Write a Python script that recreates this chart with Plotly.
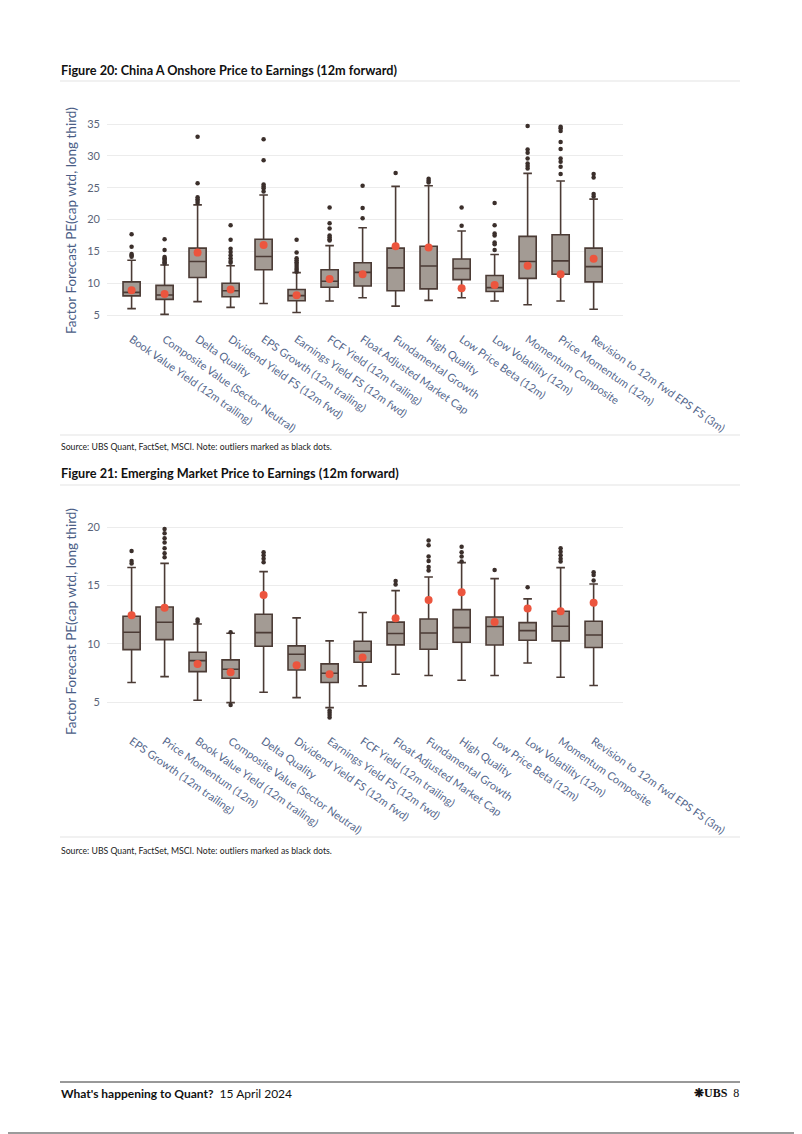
import plotly.graph_objects as go

# page is 802x1134; the html body adds an 8px margin, so the figure covers the rest
PAGE_OFF = 8
W, H = 802 - PAGE_OFF, 1134 - PAGE_OFF

# ---------------- Figure 20: China A Onshore ----------------
cats1 = ["Book Value Yield (12m trailing)", "Composite Value (Sector Neutral)", "Delta Quality",
         "Dividend Yield FS (12m fwd)", "EPS Growth (12m trailing)", "Earnings Yield FS (12m fwd)",
         "FCF Yield (12m trailing)", "Float Adjusted Market Cap", "Fundamental Growth", "High Quality",
         "Low Price Beta (12m)", "Low Volatility (12m)", "Momentum Composite", "Price Momentum (12m)",
         "Revision to 12m fwd EPS FS (3m)"]
low1 = [6.0, 5.1, 7.1, 6.2, 6.8, 5.4, 7.2, 7.7, 6.4, 7.3, 7.7, 7.2, 6.6, 7.2, 5.9]
q1_1 = [8.0, 7.46, 10.9, 7.87, 12.1, 7.25, 9.35, 9.55, 8.8, 9.1, 10.55, 8.7, 10.75, 11.4, 10.2]
med1 = [8.55, 8.14, 13.4, 8.81, 14.2, 8.04, 10.3, 11.7, 12.4, 12.7, 12.3, 9.3, 13.4, 13.5, 12.6]
q3_1 = [10.2, 9.66, 15.5, 9.98, 16.9, 9.0, 12.1, 13.2, 15.5, 15.8, 13.8, 11.2, 17.35, 17.6, 15.5]
high1 = [13.6, 12.85, 22.3, 12.74, 23.85, 11.65, 15.9, 18.7, 25.2, 25.3, 18.2, 14.5, 27.25, 26.05, 23.2]
mean1 = [8.9, 8.3, 14.8, 9.0, 16.0, 8.1, 10.65, 11.4, 15.8, 15.6, 9.2, 9.7, 12.75, 11.4, 13.85]
out1 = [
    [17.67, 15.73, 14.58, 14.37, 14.16],
    [16.9, 15.2, 14.1, 13.9, 13.7, 13.5, 13.3, 13.1],
    [33.0, 25.7, 23.5, 23.2, 22.9, 22.6],
    [19.1, 16.8, 15.4, 14.9, 14.4, 13.9, 13.5, 13.2],
    [32.6, 29.3, 25.5, 25.2, 24.9, 24.4],
    [16.8, 14.8, 13.9, 13.6, 13.3, 13.0, 12.7, 12.4, 12.1, 11.8],
    [21.9, 19.4, 18.6, 17.5, 17.2, 16.9, 16.7],
    [25.3, 21.8, 20.2],
    [27.3],
    [26.4, 26.1, 25.8],
    [21.9, 19.0],
    [22.6, 19.1, 17.8, 17.5, 16.4, 16.1, 15.2],
    [34.69, 31.0, 30.5, 29.6, 28.8, 28.4, 28.0],
    [34.58, 34.32, 33.9, 32.17, 31.07, 29.6, 29.08, 28.3, 27.15],
    [27.15, 26.6, 24.0, 23.6],
]
yticks1 = [5, 10, 15, 20, 25, 30, 35]

# ---------------- Figure 21: Emerging Market ----------------
cats2 = ["EPS Growth (12m trailing)", "Price Momentum (12m)", "Book Value Yield (12m trailing)",
         "Composite Value (Sector Neutral)", "Delta Quality", "Dividend Yield FS (12m fwd)",
         "Earnings Yield FS (12m fwd)", "FCF Yield (12m trailing)", "Float Adjusted Market Cap",
         "Fundamental Growth", "High Quality", "Low Price Beta (12m)", "Low Volatility (12m)",
         "Momentum Composite", "Revision to 12m fwd EPS FS (3m)"]
low2 = [6.69, 7.2, 5.17, 4.97, 5.86, 5.4, 4.54, 6.4, 7.4, 7.29, 6.89, 7.29, 8.37, 7.14, 6.43]
q1_2 = [9.51, 10.37, 7.63, 7.06, 9.8, 7.77, 6.69, 8.43, 9.92, 9.54, 10.14, 9.91, 10.31, 10.26, 9.69]
med2 = [11.0, 11.86, 8.57, 7.83, 10.97, 9.11, 7.49, 9.37, 10.89, 10.94, 11.4, 11.49, 11.14, 11.51, 10.77]
q3_2 = [12.37, 13.17, 9.29, 8.63, 12.54, 9.83, 8.29, 10.23, 11.87, 12.14, 12.94, 12.31, 11.83, 12.8, 11.94]
high2 = [16.55, 16.91, 11.71, 10.91, 16.2, 12.23, 10.26, 12.69, 14.57, 15.74, 16.97, 15.6, 13.86, 16.54, 15.14]
mean2 = [12.46, 13.1, 8.29, 7.57, 14.2, 8.17, 7.4, 8.83, 12.2, 13.77, 14.43, 11.89, 13.03, 12.8, 13.54]
out2 = [
    [17.97, 17.1, 16.9],
    [19.86, 19.49, 19.06, 18.69, 18.2, 17.77, 17.43],
    [12.1, 11.9],
    [11.0, 4.77],
    [17.86, 17.6, 17.3, 17.0],
    [],
    [4.29, 4.1, 3.9, 3.7],
    [],
    [15.4, 15.1],
    [18.86, 18.46, 17.49, 17.1, 16.6, 16.3],
    [18.34, 17.86, 17.5, 17.06],
    [16.34],
    [14.86],
    [18.2, 17.9, 17.6, 17.3, 17.06],
    [16.14, 15.9, 15.43],
]
yticks2 = [5, 10, 15, 20]

title1 = "Figure 20: China A Onshore Price to Earnings (12m forward)"
title2 = "Figure 21: Emerging Market Price to Earnings (12m forward)"
source_txt = "Source: UBS Quant, FactSet, MSCI. Note: outliers marked as black dots."
ytitle = "Factor Forecast PE(cap wtd, long third)"

# ---------------- styling ----------------
BOX_FILL = "#a39b94"
BOX_LINE = "#4b3b35"
OUT_COL = "#3b2f2b"
MEAN_COL = "#ec553e"
TICK_COL = "#55678c"
FONT = "Lato, 'Open Sans', sans-serif"


def px(x):
    return (x - PAGE_OFF) / W


def py(y):
    return 1 - (y - PAGE_OFF) / H


fig = go.Figure()


def add_chart(cats, low, q1, med, q3, high, mean, outs, xa, ya):
    fig.add_trace(go.Box(
        x=cats, q1=q1, median=med, q3=q3, lowerfence=low, upperfence=high,
        fillcolor=BOX_FILL, line=dict(color=BOX_LINE, width=1.6),
        width=0.52, whiskerwidth=0.5, boxpoints=False,
        xaxis=xa, yaxis=ya, showlegend=False, hoverinfo="skip"))
    ox, oy = [], []
    for c, vals in zip(cats, outs):
        for v in vals:
            ox.append(c)
            oy.append(v)
    fig.add_trace(go.Scatter(
        x=ox, y=oy, mode="markers", marker=dict(color=OUT_COL, size=4.5),
        xaxis=xa, yaxis=ya, showlegend=False, hoverinfo="skip"))
    fig.add_trace(go.Scatter(
        x=cats, y=mean, mode="markers", marker=dict(color=MEAN_COL, size=8),
        xaxis=xa, yaxis=ya, showlegend=False, hoverinfo="skip"))


add_chart(cats1, low1, q1_1, med1, q3_1, high1, mean1, out1, "x", "y")
add_chart(cats2, low2, q1_2, med2, q3_2, high2, mean2, out2, "x2", "y2")

# plot areas (page pixels)
X0, X1 = 107, 623
C1_TOP, C1_BOT = 112, 330
C2_TOP, C2_BOT = 512, 732

xaxis_common = dict(
    domain=[px(X0), px(X1)], range=[-0.745, 14.89], tickangle=35, showgrid=False,
    zeroline=False, showline=False, ticks="", automargin=False,
    tickfont=dict(family=FONT, size=11, color=TICK_COL))
yaxis_common = dict(
    showgrid=True, gridcolor="#ececec", gridwidth=1, zeroline=False, showline=False,
    ticks="", ticklabelstandoff=6, automargin=False,
    tickfont=dict(family=FONT, size=11, color="#5a6478"))

fig.update_layout(
    width=W, height=H, margin=dict(l=0, r=0, t=0, b=0, autoexpand=False),
    paper_bgcolor="white", plot_bgcolor="white", showlegend=False,
    xaxis=dict(**xaxis_common, anchor="y", categoryorder="array", categoryarray=cats1),
    yaxis=dict(**yaxis_common, domain=[py(C1_BOT), py(C1_TOP)], range=[2.644, 36.885],
               tickvals=yticks1, anchor="x"),
    xaxis2=dict(**xaxis_common, anchor="y2", categoryorder="array", categoryarray=cats2),
    yaxis2=dict(**yaxis_common, domain=[py(C2_BOT), py(C2_TOP)], range=[2.45, 21.31],
                tickvals=yticks2, anchor="x2"),
)

shapes = []
light = dict(color="#e3e3e3", width=1)
for yy in (81, 435, 485, 837):
    shapes.append(dict(type="line", xref="paper", yref="paper", x0=px(60), x1=px(740),
                       y0=py(yy), y1=py(yy), line=light))
# footer rule
shapes.append(dict(type="line", xref="paper", yref="paper", x0=px(60), x1=px(740),
                   y0=py(1082), y1=py(1082), line=dict(color="#333333", width=1)))
# page border (bottom)
shapes.append(dict(type="line", xref="paper", yref="paper", x0=0, x1=1,
                   y0=py(1133), y1=py(1133), line=dict(color="#7a7a7a", width=1.5)))
fig.update_layout(shapes=shapes)

ann = []


def text(x, y, s, size, color="#111111", bold=False, xanchor="left", angle=0, family=FONT):
    ann.append(dict(x=px(x), y=py(y), xref="paper", yref="paper", text=f"<b>{s}</b>" if bold else s,
                    showarrow=False, xanchor=xanchor, yanchor="middle", textangle=angle,
                    font=dict(family=family, size=size, color=color)))


text(59, 70, title1, 12.7, bold=True)
text(59, 473, title2, 12.7, bold=True)
text(59, 446, source_txt, 8.7, color="#222222")
text(59, 850, source_txt, 8.7, color="#222222")
text(71, (C1_TOP + C1_BOT) / 2, ytitle, 13.5, color="#4a5d86", xanchor="center", angle=-90)
text(71, (C2_TOP + C2_BOT) / 2, ytitle, 13.5, color="#4a5d86", xanchor="center", angle=-90)
text(59, 1093, "<b>What's happening to Quant?</b>  15 April 2024", 12)
text(741, 1093, "<b>❋UBS</b>  8", 12, xanchor="right", family="'Liberation Serif', serif")
fig.update_layout(annotations=ann)

fig.write_html("out.html")
